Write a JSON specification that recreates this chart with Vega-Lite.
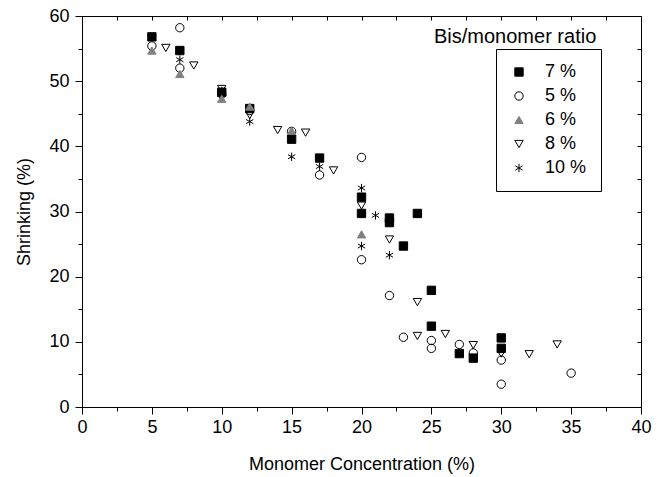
{
  "$schema": "https://vega.github.io/schema/vega-lite/v6.json",
  "width": 559,
  "height": 391,
  "autosize": {"type": "none"},
  "padding": {"left": 82, "top": 16, "right": 19, "bottom": 70},
  "background": "white",
  "config": {"font": "Liberation Sans", "view": {"stroke": "black", "strokeWidth": 1}, "axis": {"titleColor": "black", "labelColor": "black"}},
  "datasets": {
    "points": [
      {"conc": 5, "shrink": 56.8, "ratio": "7 %"},
      {"conc": 7, "shrink": 54.7, "ratio": "7 %"},
      {"conc": 10, "shrink": 48.3, "ratio": "7 %"},
      {"conc": 12, "shrink": 45.8, "ratio": "7 %"},
      {"conc": 15, "shrink": 41.1, "ratio": "7 %"},
      {"conc": 17, "shrink": 38.2, "ratio": "7 %"},
      {"conc": 20, "shrink": 32.2, "ratio": "7 %"},
      {"conc": 20, "shrink": 29.7, "ratio": "7 %"},
      {"conc": 22, "shrink": 29.0, "ratio": "7 %"},
      {"conc": 22, "shrink": 28.3, "ratio": "7 %"},
      {"conc": 23, "shrink": 24.7, "ratio": "7 %"},
      {"conc": 24, "shrink": 29.7, "ratio": "7 %"},
      {"conc": 25, "shrink": 17.9, "ratio": "7 %"},
      {"conc": 25, "shrink": 12.4, "ratio": "7 %"},
      {"conc": 27, "shrink": 8.2, "ratio": "7 %"},
      {"conc": 28, "shrink": 7.5, "ratio": "7 %"},
      {"conc": 30, "shrink": 10.6, "ratio": "7 %"},
      {"conc": 30, "shrink": 9.0, "ratio": "7 %"},
      {"conc": 5, "shrink": 55.4, "ratio": "5 %"},
      {"conc": 7, "shrink": 58.2, "ratio": "5 %"},
      {"conc": 7, "shrink": 52.0, "ratio": "5 %"},
      {"conc": 10, "shrink": 48.0, "ratio": "5 %"},
      {"conc": 12, "shrink": 45.5, "ratio": "5 %"},
      {"conc": 15, "shrink": 42.3, "ratio": "5 %"},
      {"conc": 17, "shrink": 35.6, "ratio": "5 %"},
      {"conc": 20, "shrink": 38.3, "ratio": "5 %"},
      {"conc": 20, "shrink": 22.6, "ratio": "5 %"},
      {"conc": 22, "shrink": 17.1, "ratio": "5 %"},
      {"conc": 23, "shrink": 10.7, "ratio": "5 %"},
      {"conc": 25, "shrink": 10.2, "ratio": "5 %"},
      {"conc": 25, "shrink": 9.0, "ratio": "5 %"},
      {"conc": 27, "shrink": 9.6, "ratio": "5 %"},
      {"conc": 28, "shrink": 8.3, "ratio": "5 %"},
      {"conc": 30, "shrink": 7.2, "ratio": "5 %"},
      {"conc": 30, "shrink": 3.5, "ratio": "5 %"},
      {"conc": 35, "shrink": 5.2, "ratio": "5 %"},
      {"conc": 5, "shrink": 54.7, "ratio": "6 %"},
      {"conc": 7, "shrink": 51.1, "ratio": "6 %"},
      {"conc": 10, "shrink": 47.3, "ratio": "6 %"},
      {"conc": 12, "shrink": 46.1, "ratio": "6 %"},
      {"conc": 15, "shrink": 42.4, "ratio": "6 %"},
      {"conc": 20, "shrink": 26.5, "ratio": "6 %"},
      {"conc": 6, "shrink": 55.1, "ratio": "\u00a08 %"},
      {"conc": 8, "shrink": 52.4, "ratio": "\u00a08 %"},
      {"conc": 10, "shrink": 48.8, "ratio": "\u00a08 %"},
      {"conc": 12, "shrink": 44.8, "ratio": "\u00a08 %"},
      {"conc": 14, "shrink": 42.5, "ratio": "\u00a08 %"},
      {"conc": 16, "shrink": 42.1, "ratio": "\u00a08 %"},
      {"conc": 18, "shrink": 36.3, "ratio": "\u00a08 %"},
      {"conc": 20, "shrink": 30.9, "ratio": "\u00a08 %"},
      {"conc": 22, "shrink": 25.7, "ratio": "\u00a08 %"},
      {"conc": 24, "shrink": 16.1, "ratio": "\u00a08 %"},
      {"conc": 24, "shrink": 10.9, "ratio": "\u00a08 %"},
      {"conc": 26, "shrink": 11.2, "ratio": "\u00a08 %"},
      {"conc": 28, "shrink": 9.5, "ratio": "\u00a08 %"},
      {"conc": 30, "shrink": 8.2, "ratio": "\u00a08 %"},
      {"conc": 32, "shrink": 8.1, "ratio": "\u00a08 %"},
      {"conc": 34, "shrink": 9.6, "ratio": "\u00a08 %"},
      {"conc": 7, "shrink": 53.3, "ratio": "10 %"},
      {"conc": 10, "shrink": 48.5, "ratio": "10 %"},
      {"conc": 12, "shrink": 43.8, "ratio": "10 %"},
      {"conc": 15, "shrink": 38.4, "ratio": "10 %"},
      {"conc": 17, "shrink": 36.9, "ratio": "10 %"},
      {"conc": 20, "shrink": 33.6, "ratio": "10 %"},
      {"conc": 20, "shrink": 24.7, "ratio": "10 %"},
      {"conc": 21, "shrink": 29.4, "ratio": "10 %"},
      {"conc": 22, "shrink": 23.3, "ratio": "10 %"}
    ],
    "caption": [
      {"label": "Bis/monomer ratio", "conc": 36.8, "shrink": 55.9}
    ]
  },
  "layer": [
    {
      "data": {"name": "points"},
      "mark": {"type": "point", "strokeWidth": 1, "opacity": 1},
      "encoding": {
        "x": {"field": "conc", "type": "quantitative", "scale": {"domain": [0, 40], "nice": false, "zero": false},
          "axis": {"values": [0, 2.5, 5, 7.5, 10, 12.5, 15, 17.5, 20, 22.5, 25, 27.5, 30, 32.5, 35, 37.5, 40],
            "labelExpr": "datum.value % 5 === 0 ? format(datum.value, 'd') : ''",
            "tickSize": {"condition": {"test": "datum.value % 5 === 0", "value": 7}, "value": 4},
            "grid": false, "domainColor": "black", "tickColor": "black", "labelColor": "black", "labelFontSize": 18, "labelPadding": 4, "labelFlush": false, "labelOverlap": false,
            "title": "Monomer Concentration (%)", "titleFontSize": 18, "titleFontWeight": "normal", "titleColor": "black", "titlePadding": 19}},
        "y": {"field": "shrink", "type": "quantitative", "scale": {"domain": [0, 60], "nice": false, "zero": false},
          "axis": {"values": [0, 5, 10, 15, 20, 25, 30, 35, 40, 45, 50, 55, 60],
            "labelExpr": "datum.value % 10 === 0 ? format(datum.value, 'd') : ''",
            "tickSize": {"condition": {"test": "datum.value % 10 === 0", "value": 7}, "value": 4},
            "grid": false, "domainColor": "black", "tickColor": "black", "labelColor": "black", "labelFontSize": 18, "labelPadding": 6, "labelFlush": false, "labelOverlap": false,
            "title": "Shrinking (%)", "titleFontSize": 18, "titleFontWeight": "normal", "titleColor": "black", "titlePadding": 15}},
        "shape": {"field": "ratio", "type": "nominal",
          "scale": {"domain": ["7 %", "5 %", "6 %", "\u00a08 %", "10 %"], "range": ["square", "circle", "triangle-up", "triangle-down", "M0,-1L0,1M-0.87,-0.5L0.87,0.5M-0.87,0.5L0.87,-0.5"]},
          "legend": {"orient": "none", "legendX": 414, "legendY": 33, "title": null, "strokeColor": "black", "fillColor": "white", "padding": 14, "labelFontSize": 18, "labelColor": "black", "labelOffset": 17, "rowPadding": 6, "symbolStrokeWidth": 1}},
        "fill": {"field": "ratio", "type": "nominal",
          "scale": {"domain": ["7 %", "5 %", "6 %", "\u00a08 %", "10 %"], "range": ["black", "transparent", "#808080", "transparent", "transparent"]}},
        "stroke": {"field": "ratio", "type": "nominal",
          "scale": {"domain": ["7 %", "5 %", "6 %", "\u00a08 %", "10 %"], "range": ["black", "black", "#808080", "black", "black"]}},
        "size": {"field": "ratio", "type": "nominal",
          "scale": {"domain": ["7 %", "5 %", "6 %", "\u00a08 %", "10 %"], "range": [70, 70, 100, 100, 100]}}
      }
    },
    {
      "data": {"name": "caption"},
      "mark": {"type": "text", "align": "right", "baseline": "alphabetic", "fontSize": 20, "fill": "black"},
      "encoding": {
        "text": {"field": "label", "type": "nominal"},
        "x": {"field": "conc", "type": "quantitative", "scale": {"domain": [0, 40], "nice": false, "zero": false},
          "axis": {"offset": -4, "values": [0, 2.5, 5, 7.5, 10, 12.5, 15, 17.5, 20, 22.5, 25, 27.5, 30, 32.5, 35, 37.5, 40], "labels": false, "title": null, "grid": false, "domain": false, "tickColor": "black", "tickSize": 4}},
        "y": {"field": "shrink", "type": "quantitative", "scale": {"domain": [0, 60], "nice": false, "zero": false},
          "axis": {"offset": -4, "values": [0, 5, 10, 15, 20, 25, 30, 35, 40, 45, 50, 55, 60], "labels": false, "title": null, "grid": false, "domain": false, "tickColor": "black", "tickSize": 4}}
      }
    }
  ],
  "resolve": {"scale": {"x": "independent", "y": "independent"}, "axis": {"x": "independent", "y": "independent"}}
}
